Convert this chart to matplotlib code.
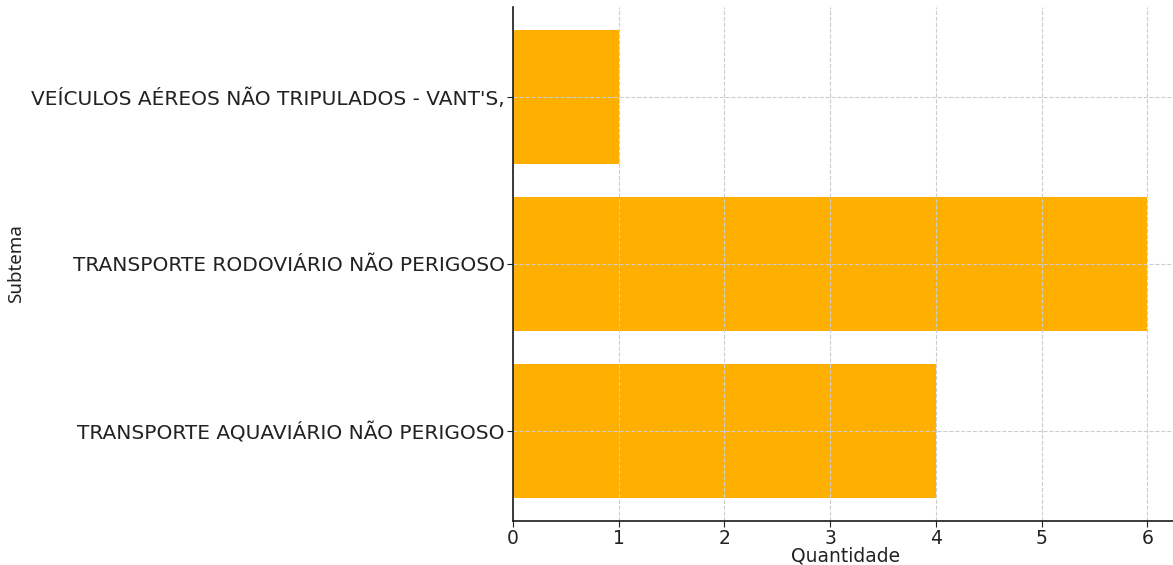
import matplotlib.pyplot as plt

subtemas = ["TRANSPORTE AQUAVIÁRIO NÃO PERIGOSO",
            "TRANSPORTE RODOVIÁRIO NÃO PERIGOSO",
            "VEÍCULOS AÉREOS NÃO TRIPULADOS - VANT'S,"]
quantidade = [4, 6, 1]

plt.rcParams['font.family'] = ['DejaVu Sans']

fig = plt.figure(figsize=(11.73, 5.65), dpi=100)
ax = fig.add_axes([513 / 1173, 1 - 521 / 565, (1179 - 513) / 1173, (521 - 6.5) / 565])

ax.barh(subtemas, quantidade, height=0.8, color="#FFAF00")
ax.set_xlim(0, 6.3)
ax.set_ylim(-0.54, 2.54)

ax.grid(True, linestyle="--", color="#cccccc", linewidth=0.8)
ax.set_axisbelow(False)
for s in ["top", "right"]:
    ax.spines[s].set_visible(False)
for s in ["left", "bottom"]:
    ax.spines[s].set_color("#1a1a1a")
    ax.spines[s].set_linewidth(1.2)
    ax.spines[s].set_zorder(5)

ax.tick_params(axis="y", labelsize=14.5, colors="#222222", length=4, pad=2)
ax.tick_params(axis="x", labelsize=13.5, colors="#222222", length=4, pad=1.5)
ax.set_xlabel("Quantidade", fontsize=13.5, color="#222222")
ax.xaxis.set_label_coords(0.5, (521 - 546) / 514.5)
ax.set_ylabel("Subtema", fontsize=13.5, color="#222222", family=["Noto Sans", "DejaVu Sans"])
ax.yaxis.set_label_coords((16 - 513) / 666, 0.5)
ax.yaxis.label.set_va("center")

fig.savefig("out.png", dpi=100)
